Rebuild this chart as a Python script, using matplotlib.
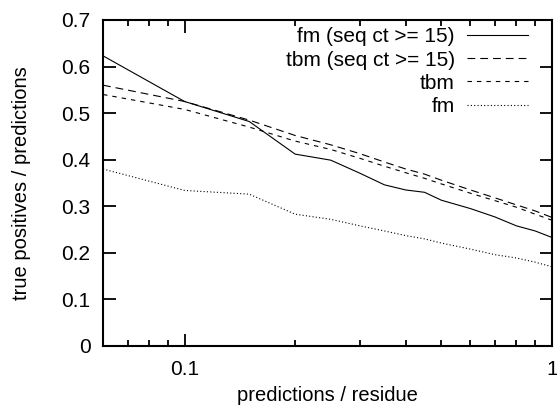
import matplotlib
matplotlib.use('Agg')
import matplotlib.pyplot as plt
from matplotlib.ticker import FixedLocator, LogLocator, NullFormatter

plt.rcParams['font.family'] = ['Liberation Sans', 'DejaVu Sans']

# predictions / residue
x = [0.06, 0.1, 0.15, 0.2, 0.25, 0.3, 0.35, 0.4, 0.45, 0.5, 0.6, 0.7, 0.8, 0.9, 1.0]

fm_seq15 = [0.623, 0.525, 0.482, 0.412, 0.399, 0.371, 0.346, 0.335, 0.330,
            0.313, 0.295, 0.277, 0.258, 0.247, 0.233]
tbm_seq15 = [0.560, 0.525, 0.485, 0.452, 0.432, 0.413, 0.395, 0.380, 0.369,
             0.356, 0.335, 0.318, 0.303, 0.290, 0.276]
tbm = [0.540, 0.508, 0.470, 0.440, 0.422, 0.403, 0.386, 0.372, 0.360,
       0.348, 0.328, 0.312, 0.298, 0.283, 0.270]
fm = [0.380, 0.334, 0.326, 0.283, 0.272, 0.258, 0.247, 0.237, 0.230,
      0.221, 0.208, 0.196, 0.189, 0.180, 0.170]

labels = ['fm (seq ct >= 15)', 'tbm (seq ct >= 15)', 'tbm', 'fm']
yticks = [0, 0.1, 0.2, 0.3, 0.4, 0.5, 0.6, 0.7]

fs = 15
fig = plt.figure(figsize=(5.57, 4.08), dpi=100)
ax = fig.add_axes([0.185, 0.152, 0.806, 0.799])

lw = 0.8
ax.plot(x, fm_seq15, color='black', lw=lw, linestyle='-', label=labels[0])
ax.plot(x, tbm_seq15, color='black', lw=lw, linestyle=(0, (7, 4.5)), label=labels[1])
ax.plot(x, tbm, color='black', lw=lw, linestyle=(0, (4, 4.5)), label=labels[2])
ax.plot(x, fm, color='black', lw=lw, linestyle=(0, (1, 2)), label=labels[3])

ax.set_xscale('log')
ax.set_xlim(0.06, 1)
ax.set_ylim(0, 0.7)

ax.xaxis.set_major_locator(FixedLocator([0.1, 1]))
ax.set_xticklabels(['0.1', '1'])
ax.xaxis.set_minor_locator(LogLocator(base=10, subs=range(2, 10)))
ax.xaxis.set_minor_formatter(NullFormatter())
ax.set_yticks(yticks)
ax.set_yticklabels(['%g' % v for v in yticks])

ax.tick_params(which='both', direction='in', top=True, right=True,
               labelsize=fs, width=1.3)
ax.tick_params(axis='x', pad=10)
ax.tick_params(axis='y', pad=9)
ax.tick_params(which='major', length=9)
ax.tick_params(which='minor', length=4.5)
for s in ax.spines.values():
    s.set_linewidth(1.5)

ax.set_xlabel('predictions / residue', fontsize=14.5, labelpad=5)
ax.set_ylabel('true positives / predictions', fontsize=14.5, labelpad=22)

ax.legend(loc='upper right', frameon=False, markerfirst=False, fontsize=fs,
          handlelength=2.9, handletextpad=0.6, labelspacing=0.2,
          borderaxespad=0.0, borderpad=0.2, bbox_to_anchor=(0.955, 0.99))

fig.savefig('out.png', dpi=100)
